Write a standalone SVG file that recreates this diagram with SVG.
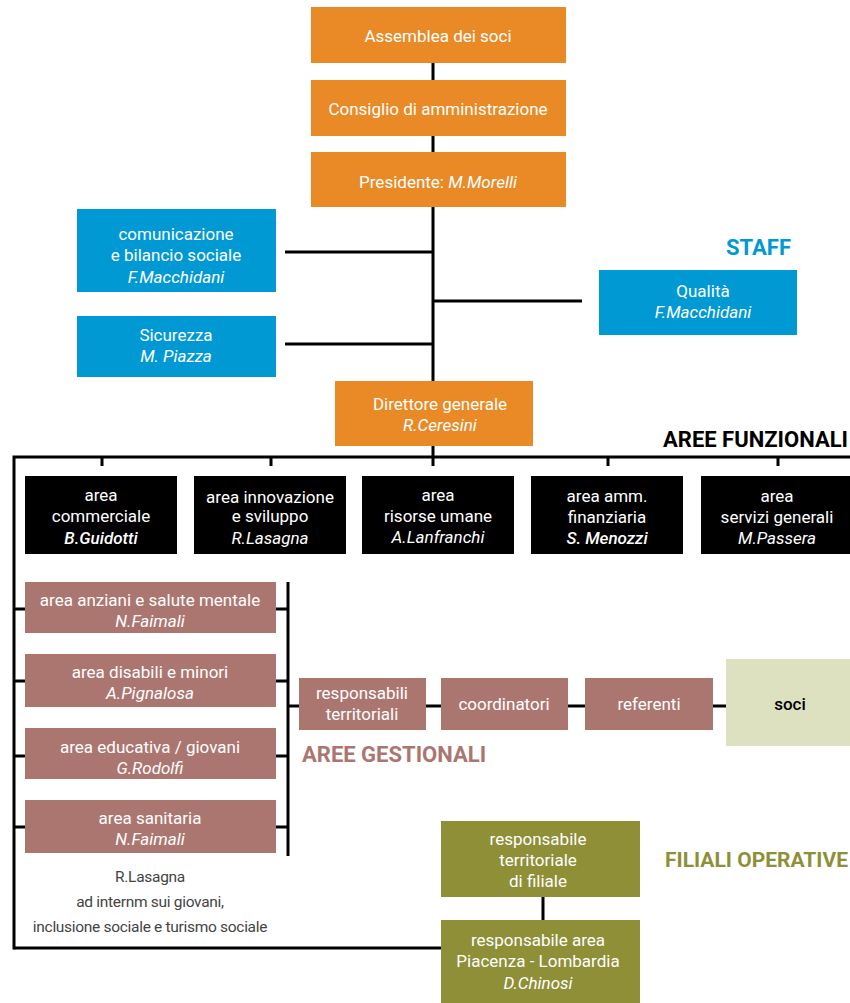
<svg xmlns="http://www.w3.org/2000/svg" width="850" height="1003" viewBox="0 0 850 1003">
<style>
text{font-family:"Liberation Sans Narrow","Roboto","Liberation Sans",sans-serif;font-size:17px;text-anchor:middle;fill:#fff}
.i{font-style:italic}
.b{font-weight:500}
.or{fill:#e98a26}.bl{fill:#0099d4}.bk{fill:#000}.pk{fill:#ac7670}.gr{fill:#8e8f37}.so{fill:#dde1c0}
.ln{stroke:#000;stroke-width:3;fill:none}
.h{font-size:22px;font-weight:bold}
.g{fill:#444;font-size:15.5px;letter-spacing:-0.3px}
</style>
<g id="connectors">
<path class="ln" d="M433 63V381M433 446V466M285 252H433M285 344H433M433 301H582"/>
<path class="ln" d="M14 457H850M14 455.5V949.5M102 457V466M271 457V466M608 457V466M778 457V466"/>
<path class="ln" d="M14 609H25M14 681H25M14 756H25M14 827H25M276 609H288M276 681H288M276 756H288M276 827H288M288 582V856M288 706H299M426 706H441M568 706H585M713 706H726"/>
<path class="ln" d="M14 948H441M543 897V920"/>
</g>
<g id="assemblea"><rect class="or" x="311" y="7" width="255" height="56"/><text x="438" y="42">Assemblea dei soci</text></g>
<g id="consiglio"><rect class="or" x="311" y="80" width="255" height="56"/><text x="438" y="115">Consiglio di amministrazione</text></g>
<g id="presidente"><rect class="or" x="311" y="152" width="255" height="55"/><text x="438" y="188">Presidente: <tspan class="i">M.Morelli</tspan></text></g>
<g id="comunicazione"><rect class="bl" x="77" y="209" width="199" height="83"/><text x="176" y="240">comunicazione</text><text x="176" y="261">e bilancio sociale</text><text class="i" x="176" y="283">F.Macchidani</text></g>
<g id="sicurezza"><rect class="bl" x="77" y="316" width="199" height="61"/><text x="176" y="341">Sicurezza</text><text class="i" x="176" y="362">M. Piazza</text></g>
<g id="qualita"><rect class="bl" x="599" y="270" width="198" height="65"/><text x="703" y="297">Qualità</text><text class="i" x="703" y="318">F.Macchidani</text></g>
<text class="h" x="791" y="255" style="text-anchor:end;fill:#0099d4">STAFF</text>
<g id="direttore"><rect class="or" x="335" y="381" width="198" height="65"/><text x="440" y="410">Direttore generale</text><text class="i" x="440" y="431">R.Ceresini</text></g>
<text class="h" x="848" y="447" style="text-anchor:end;fill:#000">AREE FUNZIONALI</text>
<g id="commerciale"><rect class="bk" x="25" y="476" width="152" height="78"/><text x="101" y="501">area</text><text x="101" y="522">commerciale</text><text class="i b" x="101" y="544">B.Guidotti</text></g>
<g id="innovazione"><rect class="bk" x="194" y="476" width="152" height="78"/><text x="270" y="503">area innovazione</text><text x="270" y="522">e sviluppo</text><text class="i" x="270" y="544">R.Lasagna</text></g>
<g id="risorse"><rect class="bk" x="362" y="476" width="152" height="78"/><text x="438" y="501">area</text><text x="438" y="522">risorse umane</text><text class="i" x="438" y="543">A.Lanfranchi</text></g>
<g id="finanziaria"><rect class="bk" x="531" y="476" width="152" height="78"/><text x="607" y="502">area amm.</text><text x="607" y="523">finanziaria</text><text class="i b" x="607" y="544">S. Menozzi</text></g>
<g id="servizi"><rect class="bk" x="701" y="476" width="152" height="78"/><text x="777" y="502">area</text><text x="777" y="523">servizi generali</text><text class="i" x="777" y="544">M.Passera</text></g>
<g id="anziani"><rect class="pk" x="25" y="582" width="251" height="51"/><text x="150" y="606">area anziani e salute mentale</text><text class="i" x="150" y="627">N.Faimali</text></g>
<g id="disabili"><rect class="pk" x="25" y="654" width="251" height="53"/><text x="150" y="678">area disabili e minori</text><text class="i" x="150" y="699">A.Pignalosa</text></g>
<g id="educativa"><rect class="pk" x="25" y="728" width="251" height="51"/><text x="150" y="753">area educativa / giovani</text><text class="i" x="150" y="774">G.Rodolfi</text></g>
<g id="sanitaria"><rect class="pk" x="25" y="800" width="251" height="53"/><text x="150" y="824">area sanitaria</text><text class="i" x="150" y="845">N.Faimali</text></g>
<g id="nota">
<text class="g" x="150" y="882">R.Lasagna</text>
<text class="g" x="150" y="907">ad internm sui giovani,</text>
<text class="g" x="150" y="932">inclusione sociale e turismo sociale</text>
</g>
<g id="responsabili"><rect class="pk" x="299" y="678" width="127" height="52"/><text x="362" y="699">responsabili</text><text x="362" y="720">territoriali</text></g>
<g id="coordinatori"><rect class="pk" x="441" y="678" width="127" height="52"/><text x="504" y="710">coordinatori</text></g>
<g id="referenti"><rect class="pk" x="585" y="678" width="128" height="52"/><text x="649" y="710">referenti</text></g>
<g id="soci"><rect class="so" x="726" y="659" width="124" height="87"/><text class="b" x="790" y="710" style="fill:#000">soci</text></g>
<text class="h" x="302" y="762" style="text-anchor:start;fill:#ac7670">AREE GESTIONALI</text>
<g id="filiale"><rect class="gr" x="441" y="821" width="199" height="76"/><text x="538" y="845">responsabile</text><text x="538" y="866">territoriale</text><text x="538" y="887">di filiale</text></g>
<g id="area-piacenza"><rect class="gr" x="441" y="920" width="199" height="83"/><text x="538" y="946">responsabile area</text><text x="538" y="967">Piacenza - Lombardia</text><text class="i" x="538" y="989">D.Chinosi</text></g>
<text class="h" x="848" y="867" style="text-anchor:end;fill:#8e8f37;font-size:21px">FILIALI OPERATIVE</text>
</svg>
